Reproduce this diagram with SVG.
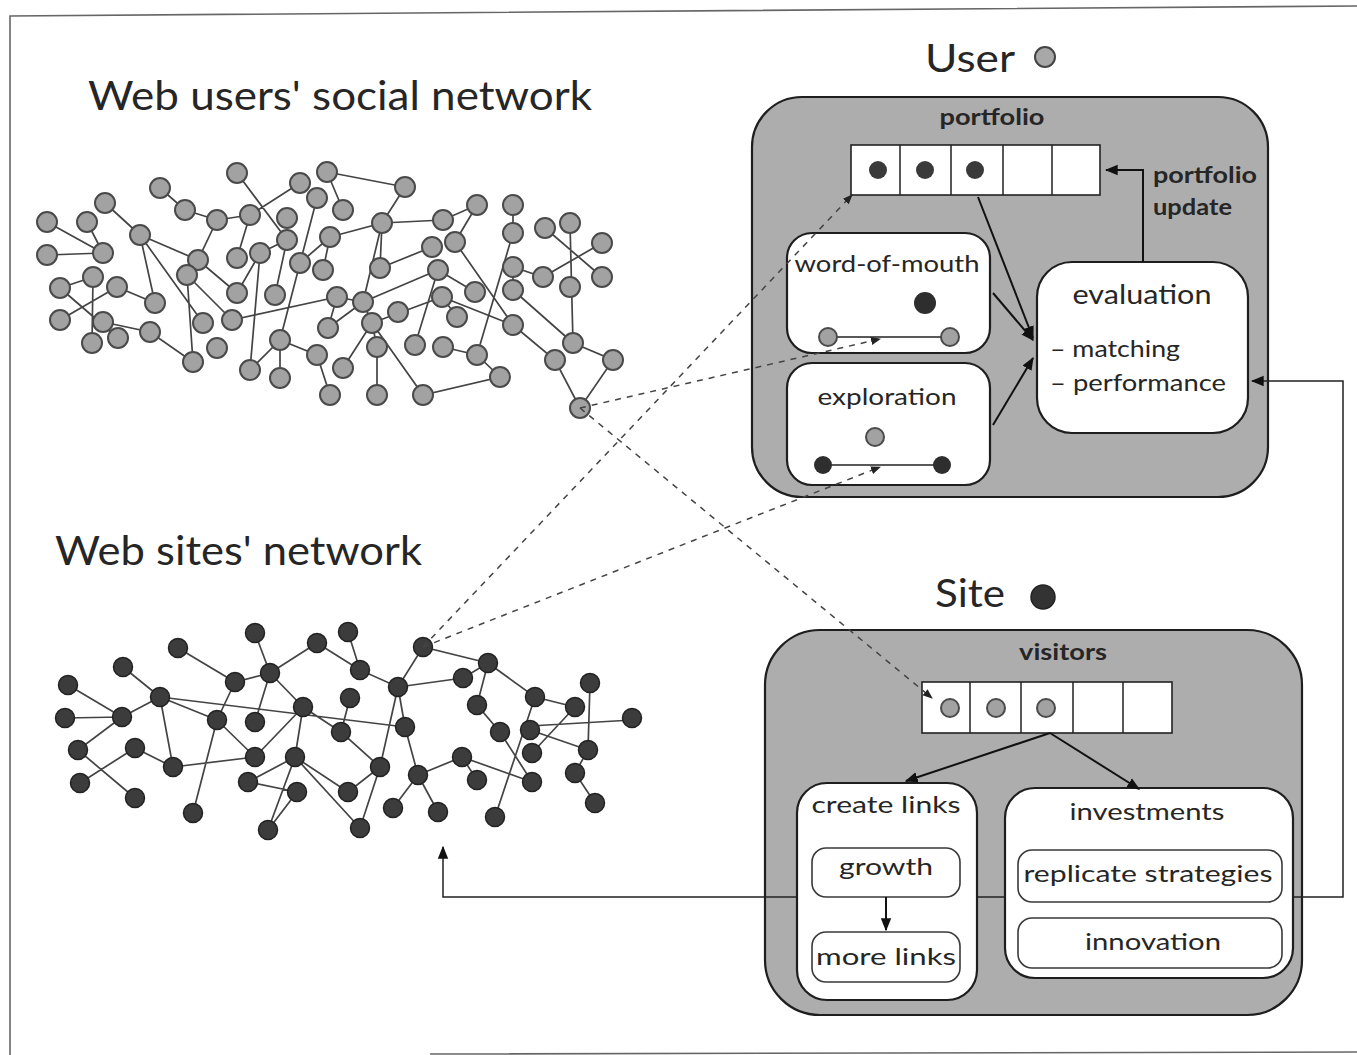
<svg xmlns="http://www.w3.org/2000/svg" width="1357" height="1055" viewBox="0 0 1357 1055">
<defs>
<marker id="ah" viewBox="0 0 10 10" refX="9" refY="5" markerWidth="13" markerHeight="13" markerUnits="userSpaceOnUse" orient="auto-start-reverse"><path d="M0,1 L10,5 L0,9 z" fill="#111"/></marker>
<marker id="ahs" viewBox="0 0 10 10" refX="9" refY="5" markerWidth="10" markerHeight="10" markerUnits="userSpaceOnUse" orient="auto"><path d="M0,1 L10,5 L0,9 z" fill="#222"/></marker>
</defs>
<style>
text{font-family:Lato,"Open Sans","Liberation Sans",sans-serif;fill:#262626}
.title{font-size:40px}
.big{font-size:38px}
.lbl{font-size:24px}
.bold{font-size:22px;font-weight:bold}
.outer{fill:#adadad;stroke:#1e1e1e;stroke-width:2.2}
.inner{fill:#fff;stroke:#1e1e1e;stroke-width:2.2}
.sub{fill:#fff;stroke:#3a3a3a;stroke-width:1.6}
.cell{fill:#fff;stroke:#222;stroke-width:1.6}
.un{fill:#a2a2a2;stroke:#4a4a4a;stroke-width:2}
.sn{fill:#3c3c3c;stroke:#222;stroke-width:1.5}
.e{stroke:#444;stroke-width:1.7;fill:none}
.arr{stroke:#111;stroke-width:2;fill:none}
.thin{stroke:#222;stroke-width:1.5;fill:none}
.dash{stroke:#444;stroke-width:1.5;fill:none;stroke-dasharray:6 6}
</style>
<rect width="1357" height="1055" fill="#fff"/>
<path d="M10,1055 V16 L1357,6 M430,1054 L1357,1052" fill="none" stroke="#666" stroke-width="1.6"/>

<text class="title" x="88" y="110" textLength="504" lengthAdjust="spacingAndGlyphs">Web users' social network</text>
<text class="title" x="55" y="565" textLength="367" lengthAdjust="spacingAndGlyphs">Web sites' network</text>

<g id="users-network">
<g class="edges">
<path class="e" d="M47,222L103,253M87,222L103,253M47,255L103,253M105,203L140,235M160,188L185,210L217,220L250,215L300,183M237,173L287,240M217,220L198,260M250,215L237,258M140,235L198,260M140,235L155,303M140,235L203,323M198,260L237,293M187,275L232,320M187,275L193,362M93,277L60,288M93,277L92,343M60,288L118,338M117,287L60,320M117,287L155,303M103,322L150,332L193,362M232,320L337,297M237,293L260,253M260,253L287,240M260,253L250,370M287,240L275,295M317,198L280,340M300,263L330,237M323,270L330,237M280,340L250,370M280,340L280,378M280,340L317,355L330,395"/>
<path class="e" d="M327,172L405,187M327,172L343,210M405,187L382,223L330,237M382,223L443,220L477,205L455,242M455,242L513,325M513,205L513,233L477,355M382,223L380,268L432,247M382,223L363,302M337,297L363,302M337,297L328,328M328,328L363,302M363,302L438,270M363,302L372,323L377,347L377,395M372,323L423,395L500,377L477,355L443,347M438,270L415,345M438,270L475,292M372,323L442,297L457,317M442,297L513,325M513,267L543,277L602,243M513,267L513,290M545,228L602,277M570,223L573,343M513,290L573,343M513,325L555,360L580,408M573,343L613,360L580,408M372,323L343,368"/>
</g>
<g id="u-nodes">
<circle class="un" cx="237" cy="173" r="10"/><circle class="un" cx="300" cy="183" r="10"/><circle class="un" cx="327" cy="172" r="10"/><circle class="un" cx="160" cy="188" r="10"/><circle class="un" cx="105" cy="203" r="10"/><circle class="un" cx="185" cy="210" r="10"/><circle class="un" cx="217" cy="220" r="10"/><circle class="un" cx="250" cy="215" r="10"/><circle class="un" cx="317" cy="198" r="10"/><circle class="un" cx="287" cy="218" r="10"/><circle class="un" cx="47" cy="222" r="10"/><circle class="un" cx="87" cy="222" r="10"/><circle class="un" cx="140" cy="235" r="10"/><circle class="un" cx="287" cy="240" r="10"/><circle class="un" cx="330" cy="237" r="10"/><circle class="un" cx="103" cy="253" r="10"/><circle class="un" cx="47" cy="255" r="10"/><circle class="un" cx="198" cy="260" r="10"/><circle class="un" cx="237" cy="258" r="10"/><circle class="un" cx="260" cy="253" r="10"/><circle class="un" cx="300" cy="263" r="10"/><circle class="un" cx="323" cy="270" r="10"/><circle class="un" cx="187" cy="275" r="10"/><circle class="un" cx="93" cy="277" r="10"/><circle class="un" cx="60" cy="288" r="10"/><circle class="un" cx="117" cy="287" r="10"/><circle class="un" cx="337" cy="297" r="10"/><circle class="un" cx="237" cy="293" r="10"/><circle class="un" cx="275" cy="295" r="10"/><circle class="un" cx="155" cy="303" r="10"/><circle class="un" cx="60" cy="320" r="10"/><circle class="un" cx="103" cy="322" r="10"/><circle class="un" cx="232" cy="320" r="10"/><circle class="un" cx="203" cy="323" r="10"/><circle class="un" cx="118" cy="338" r="10"/><circle class="un" cx="150" cy="332" r="10"/><circle class="un" cx="92" cy="343" r="10"/><circle class="un" cx="280" cy="340" r="10"/><circle class="un" cx="217" cy="348" r="10"/><circle class="un" cx="328" cy="328" r="10"/><circle class="un" cx="317" cy="355" r="10"/><circle class="un" cx="193" cy="362" r="10"/><circle class="un" cx="250" cy="370" r="10"/><circle class="un" cx="280" cy="378" r="10"/><circle class="un" cx="330" cy="395" r="10"/>
<circle class="un" cx="405" cy="187" r="10"/><circle class="un" cx="343" cy="210" r="10"/><circle class="un" cx="382" cy="223" r="10"/><circle class="un" cx="443" cy="220" r="10"/><circle class="un" cx="477" cy="205" r="10"/><circle class="un" cx="513" cy="205" r="10"/><circle class="un" cx="455" cy="242" r="10"/><circle class="un" cx="513" cy="233" r="10"/><circle class="un" cx="545" cy="228" r="10"/><circle class="un" cx="570" cy="223" r="10"/><circle class="un" cx="602" cy="243" r="10"/><circle class="un" cx="432" cy="247" r="10"/><circle class="un" cx="380" cy="268" r="10"/><circle class="un" cx="438" cy="270" r="10"/><circle class="un" cx="513" cy="267" r="10"/><circle class="un" cx="543" cy="277" r="10"/><circle class="un" cx="570" cy="287" r="10"/><circle class="un" cx="602" cy="277" r="10"/><circle class="un" cx="513" cy="290" r="10"/><circle class="un" cx="475" cy="292" r="10"/><circle class="un" cx="363" cy="302" r="10"/><circle class="un" cx="442" cy="297" r="10"/><circle class="un" cx="398" cy="312" r="10"/><circle class="un" cx="457" cy="317" r="10"/><circle class="un" cx="372" cy="323" r="10"/><circle class="un" cx="513" cy="325" r="10"/><circle class="un" cx="377" cy="347" r="10"/><circle class="un" cx="415" cy="345" r="10"/><circle class="un" cx="443" cy="347" r="10"/><circle class="un" cx="477" cy="355" r="10"/><circle class="un" cx="573" cy="343" r="10"/><circle class="un" cx="555" cy="360" r="10"/><circle class="un" cx="613" cy="360" r="10"/><circle class="un" cx="343" cy="368" r="10"/><circle class="un" cx="500" cy="377" r="10"/><circle class="un" cx="377" cy="395" r="10"/><circle class="un" cx="423" cy="395" r="10"/><circle class="un" cx="580" cy="408" r="10"/>
</g>
</g>

<g id="sites-network">
<g class="edges">
<path class="e" d="M68,685L122,717M65,718L122,717M123,667L160,697M122,717L160,697M122,717L78,750L135,798M135,748L80,783M135,748L173,767M160,697L173,767M160,697L217,720M160,697L405,727M178,648L235,682L270,673M235,682L217,720M270,673L255,633M270,673L317,643M270,673L255,722M270,673L303,707M217,720L255,757M217,720L193,813M173,767L255,757L303,707M303,707L295,757M303,707L341,732M295,757L248,782L297,792L268,830L295,757M295,757L348,792M295,757L360,828"/>
<path class="e" d="M317,643L360,670M348,632L360,670L398,687L423,647L488,663M398,687L463,678L488,663M488,663L477,705L500,732L532,782M488,663L535,697L575,707M535,697L495,817M398,687L405,727L418,775M398,687L380,767M350,698L341,732L380,767L348,792M380,767L360,828M418,775L462,757L477,780M418,775L393,808M418,775L438,812M462,757L532,782M530,726L632,720M530,730L588,750M590,683L588,750L575,773L595,803M575,707L532,753"/>
</g>
<g id="s-nodes">
<circle class="sn" cx="255" cy="633" r="9.5"/><circle class="sn" cx="317" cy="643" r="9.5"/><circle class="sn" cx="178" cy="648" r="9.5"/><circle class="sn" cx="123" cy="667" r="9.5"/><circle class="sn" cx="235" cy="682" r="9.5"/><circle class="sn" cx="270" cy="673" r="9.5"/><circle class="sn" cx="68" cy="685" r="9.5"/><circle class="sn" cx="160" cy="697" r="9.5"/><circle class="sn" cx="303" cy="707" r="9.5"/><circle class="sn" cx="122" cy="717" r="9.5"/><circle class="sn" cx="65" cy="718" r="9.5"/><circle class="sn" cx="217" cy="720" r="9.5"/><circle class="sn" cx="255" cy="722" r="9.5"/><circle class="sn" cx="341" cy="732" r="9.5"/><circle class="sn" cx="78" cy="750" r="9.5"/><circle class="sn" cx="135" cy="748" r="9.5"/><circle class="sn" cx="255" cy="757" r="9.5"/><circle class="sn" cx="295" cy="757" r="9.5"/><circle class="sn" cx="173" cy="767" r="9.5"/><circle class="sn" cx="80" cy="783" r="9.5"/><circle class="sn" cx="248" cy="782" r="9.5"/><circle class="sn" cx="297" cy="792" r="9.5"/><circle class="sn" cx="135" cy="798" r="9.5"/><circle class="sn" cx="193" cy="813" r="9.5"/><circle class="sn" cx="268" cy="830" r="9.5"/>
<circle class="sn" cx="348" cy="632" r="9.5"/><circle class="sn" cx="423" cy="647" r="9.5"/><circle class="sn" cx="488" cy="663" r="9.5"/><circle class="sn" cx="360" cy="670" r="9.5"/><circle class="sn" cx="463" cy="678" r="9.5"/><circle class="sn" cx="398" cy="687" r="9.5"/><circle class="sn" cx="535" cy="697" r="9.5"/><circle class="sn" cx="575" cy="707" r="9.5"/><circle class="sn" cx="350" cy="698" r="9.5"/><circle class="sn" cx="590" cy="683" r="9.5"/><circle class="sn" cx="477" cy="705" r="9.5"/><circle class="sn" cx="632" cy="718" r="9.5"/><circle class="sn" cx="405" cy="727" r="9.5"/><circle class="sn" cx="500" cy="732" r="9.5"/><circle class="sn" cx="530" cy="730" r="9.5"/><circle class="sn" cx="532" cy="753" r="9.5"/><circle class="sn" cx="588" cy="750" r="9.5"/><circle class="sn" cx="462" cy="757" r="9.5"/><circle class="sn" cx="380" cy="767" r="9.5"/><circle class="sn" cx="477" cy="780" r="9.5"/><circle class="sn" cx="532" cy="782" r="9.5"/><circle class="sn" cx="418" cy="775" r="9.5"/><circle class="sn" cx="575" cy="773" r="9.5"/><circle class="sn" cx="348" cy="792" r="9.5"/><circle class="sn" cx="393" cy="808" r="9.5"/><circle class="sn" cx="438" cy="812" r="9.5"/><circle class="sn" cx="495" cy="817" r="9.5"/><circle class="sn" cx="595" cy="803" r="9.5"/><circle class="sn" cx="360" cy="828" r="9.5"/>
</g>
</g>

<g id="user-box">
<text class="big" x="925" y="72" textLength="90" lengthAdjust="spacingAndGlyphs">User</text>
<circle cx="1045" cy="57" r="10" fill="#a8a8a8" stroke="#444" stroke-width="2"/>
<rect class="outer" x="752" y="97" width="516" height="400" rx="50"/>
<text class="bold" x="992" y="125" text-anchor="middle" textLength="105" lengthAdjust="spacingAndGlyphs">portfolio</text>
</g>

<g id="site-box">
<text class="big" x="935" y="607" textLength="70" lengthAdjust="spacingAndGlyphs">Site</text>
<circle cx="1043" cy="597" r="12" fill="#333" stroke="#222" stroke-width="1.5"/>
<rect class="outer" x="765" y="630" width="537" height="385" rx="55"/>
<text class="bold" x="1063" y="660" text-anchor="middle" textLength="88" lengthAdjust="spacingAndGlyphs">visitors</text>
</g>

<g id="connectors-back">
<path class="thin" d="M443,847V897H1343V381H1252" stroke="#222" stroke-width="1.6" marker-start="url(#ah)" marker-end="url(#ah)"/>
</g>

<g id="portfolio">
<rect class="cell" x="851" y="145" width="249" height="50"/>
<path class="thin" d="M900,145V195M951,145V195M1003,145V195M1052,145V195"/>
<circle cx="878" cy="170" r="9" fill="#3a3a3a"/><circle cx="925" cy="170" r="9" fill="#3a3a3a"/><circle cx="975" cy="170" r="9" fill="#3a3a3a"/>
</g>
<g id="word-of-mouth">
<rect class="inner" x="787" y="233" width="203" height="120" rx="25"/>
<text class="lbl" x="887" y="272" text-anchor="middle" textLength="185" lengthAdjust="spacingAndGlyphs">word-of-mouth</text>
<circle cx="925" cy="303" r="11" fill="#2e2e2e"/>
<line class="thin" x1="828" y1="337" x2="950" y2="337"/>
<circle class="un" cx="828" cy="337" r="9"/><circle class="un" cx="950" cy="337" r="9"/>
</g>
<g id="exploration">
<rect class="inner" x="787" y="363" width="203" height="122" rx="25"/>
<text class="lbl" x="887" y="405" text-anchor="middle" textLength="139" lengthAdjust="spacingAndGlyphs">exploration</text>
<circle class="un" cx="875" cy="437" r="9"/>
<line class="thin" x1="823" y1="465" x2="942" y2="465"/>
<circle cx="823" cy="465" r="9" fill="#2e2e2e"/><circle cx="942" cy="465" r="9" fill="#2e2e2e"/>
</g>
<g id="evaluation">
<rect class="inner" x="1037" y="262" width="211" height="171" rx="35"/>
<text x="1142" y="304" text-anchor="middle" font-size="27" textLength="139" lengthAdjust="spacingAndGlyphs">evaluation</text>
<text class="lbl" x="1050" y="357" textLength="130" lengthAdjust="spacingAndGlyphs">– matching</text>
<text class="lbl" x="1050" y="391" textLength="176" lengthAdjust="spacingAndGlyphs">– performance</text>
</g>
<g id="portfolio-update-label">
<text class="bold" x="1153" y="183" textLength="104" lengthAdjust="spacingAndGlyphs">portfolio</text>
<text class="bold" x="1153" y="215" textLength="79" lengthAdjust="spacingAndGlyphs">update</text>
</g>

<g id="visitors">
<rect class="cell" x="922" y="682" width="250" height="51"/>
<path class="thin" d="M970,682V733M1021,682V733M1073,682V733M1123,682V733"/>
<circle class="un" cx="950" cy="708" r="9"/><circle class="un" cx="996" cy="708" r="9"/><circle class="un" cx="1046" cy="708" r="9"/>
</g>
<g id="create-links">
<rect class="inner" x="797" y="783" width="180" height="217" rx="30"/>
<text class="lbl" x="886" y="813" text-anchor="middle" textLength="149" lengthAdjust="spacingAndGlyphs">create links</text>
</g>
<g id="growth">
<rect class="sub" x="812" y="848" width="148" height="49" rx="14"/>
<text class="lbl" x="886" y="875" text-anchor="middle" textLength="94" lengthAdjust="spacingAndGlyphs">growth</text>
</g>
<g id="more-links">
<rect class="sub" x="812" y="932" width="148" height="50" rx="14"/>
<text class="lbl" x="886" y="965" text-anchor="middle" textLength="140" lengthAdjust="spacingAndGlyphs">more links</text>
</g>
<g id="investments">
<rect class="inner" x="1005" y="788" width="288" height="190" rx="30"/>
<text class="lbl" x="1147" y="820" text-anchor="middle" textLength="155" lengthAdjust="spacingAndGlyphs">investments</text>
</g>
<g id="replicate-strategies">
<rect class="sub" x="1018" y="850" width="264" height="52" rx="14"/>
<text class="lbl" x="1148" y="882" text-anchor="middle" textLength="249" lengthAdjust="spacingAndGlyphs">replicate strategies</text>
</g>
<g id="innovation">
<rect class="sub" x="1018" y="918" width="264" height="50" rx="14"/>
<text class="lbl" x="1153" y="950" text-anchor="middle" textLength="136" lengthAdjust="spacingAndGlyphs">innovation</text>
</g>

<g id="connectors">
<line class="arr" x1="978" y1="197" x2="1033" y2="338" marker-end="url(#ah)"/>
<line class="arr" x1="993" y1="293" x2="1033" y2="340" marker-end="url(#ah)"/>
<line class="arr" x1="993" y1="425" x2="1033" y2="358" marker-end="url(#ah)"/>
<path class="arr" d="M1143,262V170H1106" marker-end="url(#ah)"/>
<line class="arr" x1="1050" y1="733" x2="906" y2="781" marker-end="url(#ah)"/>
<line class="arr" x1="1050" y1="733" x2="1139" y2="789" marker-end="url(#ah)"/>
<line class="arr" x1="886" y1="897" x2="886" y2="930" marker-end="url(#ah)"/>
</g>

<g id="dashed-links">
<line class="dash" x1="423" y1="647" x2="852" y2="195" marker-end="url(#ahs)"/>
<line class="dash" x1="423" y1="647" x2="880" y2="467" marker-end="url(#ahs)"/>
<line class="dash" x1="580" y1="408" x2="880" y2="339" marker-end="url(#ahs)"/>
<line class="dash" x1="580" y1="408" x2="932" y2="698" marker-end="url(#ahs)"/>
</g>
</svg>
